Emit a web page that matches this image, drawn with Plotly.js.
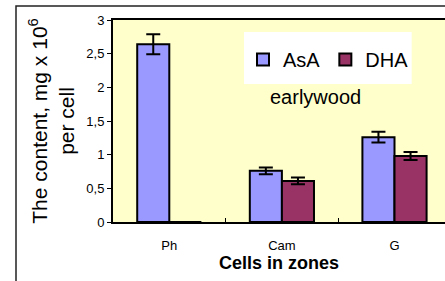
<!DOCTYPE html>
<html>
<head>
<meta charset="utf-8">
<script src="https://cdn.plot.ly/plotly-3.0.1.min.js"></script>
<style>
html,body{margin:0;padding:0;overflow:hidden;background:#fff;}
#chart{width:445px;height:281px;}
</style>
</head>
<body>
<div id="chart"></div>
<script>
// ---- data ----
var categories = ['Ph', 'Cam', 'G'];
var seriesNames = ['AsA', 'DHA'];
var asaValues = [2.64, 0.76, 1.26];
var asaErrors = [0.15, 0.05, 0.08];
var dhaValues = [0, 0.61, 0.98];
var dhaErrors = [0, 0.05, 0.06];
var yTitle = 'The content, mg x 10<sup>6</sup><br>per cell';
var xTitle = 'Cells in zones';
var noteText = 'earlywood';

// ---- layout helpers (pixel -> paper) ----
var W = 445, H = 281;
var M = {l: 113, r: 0, t: 20, b: 59};
var PW = W - M.l - M.r, PH = H - M.t - M.b;
var CAT_PX = 112.6; // pixel width of one category slot (plot continues past the right edge)
function px(x) { return (x - M.l) / PW; }
function py(y) { return (H - M.b - y) / PH; }

var FONT = 'Liberation Sans, Arial, sans-serif';

var traces = [
  {
    type: 'bar', name: seriesNames[0], x: categories, y: asaValues,
    marker: {color: '#9999FF', line: {color: '#000', width: 2}},
    error_y: {type: 'data', array: asaErrors, visible: true, color: '#000', thickness: 2, width: 7}
  },
  {
    type: 'bar', name: seriesNames[1], x: categories, y: dhaValues,
    marker: {color: '#993366', line: {color: '#000', width: 2}},
    error_y: {type: 'data', array: dhaErrors, visible: true, color: '#000', thickness: 2, width: 7}
  }
];

var layout = {
  width: W, height: H,
  margin: M,
  paper_bgcolor: '#fff',
  plot_bgcolor: '#FFFFCC',
  separators: ', ',
  font: {family: FONT, color: '#000', size: 13},
  barmode: 'group',
  bargap: 0.43,
  bargroupgap: 0,
  showlegend: true,
  legend: {
    orientation: 'h',
    x: px(243), xanchor: 'left',
    y: py(40), yanchor: 'top',
    bgcolor: 'rgba(0,0,0,0)',
    font: {family: FONT, size: 20, color: '#000'}
  },
  xaxis: {
    type: 'category',
    range: [-0.5, -0.5 + PW / CAT_PX],
    showline: true, linecolor: '#000', linewidth: 2, mirror: true,
    ticks: 'inside', ticklen: 4, tickcolor: '#000', tickwidth: 1,
    tickson: 'boundaries',
    ticklabelstandoff: 10,
    tickfont: {family: FONT, size: 13, color: '#000'},
    showgrid: false, zeroline: false,
    title: {text: xTitle, font: {family: FONT, size: 18, color: '#000', weight: 'bold'}, standoff: 0}
  },
  yaxis: {
    range: [0, 3],
    dtick: 0.5,
    showline: true, linecolor: '#000', linewidth: 2, mirror: false,
    ticks: 'outside', ticklen: 4, tickcolor: '#000', tickwidth: 1,
    tickfont: {family: FONT, size: 13, color: '#000'},
    showgrid: false, zeroline: false,
    title: {text: yTitle, font: {family: FONT, size: 21, color: '#000'}, standoff: 6}
  },
  shapes: [
    {type: 'rect', xref: 'paper', yref: 'paper', layer: 'below',
     x0: px(244), x1: px(411.7), y0: py(84), y1: py(32),
     fillcolor: '#fff', line: {width: 0}},
    {type: 'rect', xref: 'paper', yref: 'paper', layer: 'above',
     x0: px(16), x1: px(W + 10), y0: py(H + 10), y1: py(6),
     fillcolor: 'rgba(0,0,0,0)', line: {color: '#222', width: 1.5}}
  ],
  annotations: [
    {text: noteText, xref: 'paper', yref: 'paper', x: px(315.5), y: py(96.5),
     xanchor: 'center', yanchor: 'middle', showarrow: false,
     font: {family: FONT, size: 20, color: '#000'}}
  ]
};

Plotly.newPlot('chart', traces, layout, {displayModeBar: false, staticPlot: true});
</script>
</body>
</html>
